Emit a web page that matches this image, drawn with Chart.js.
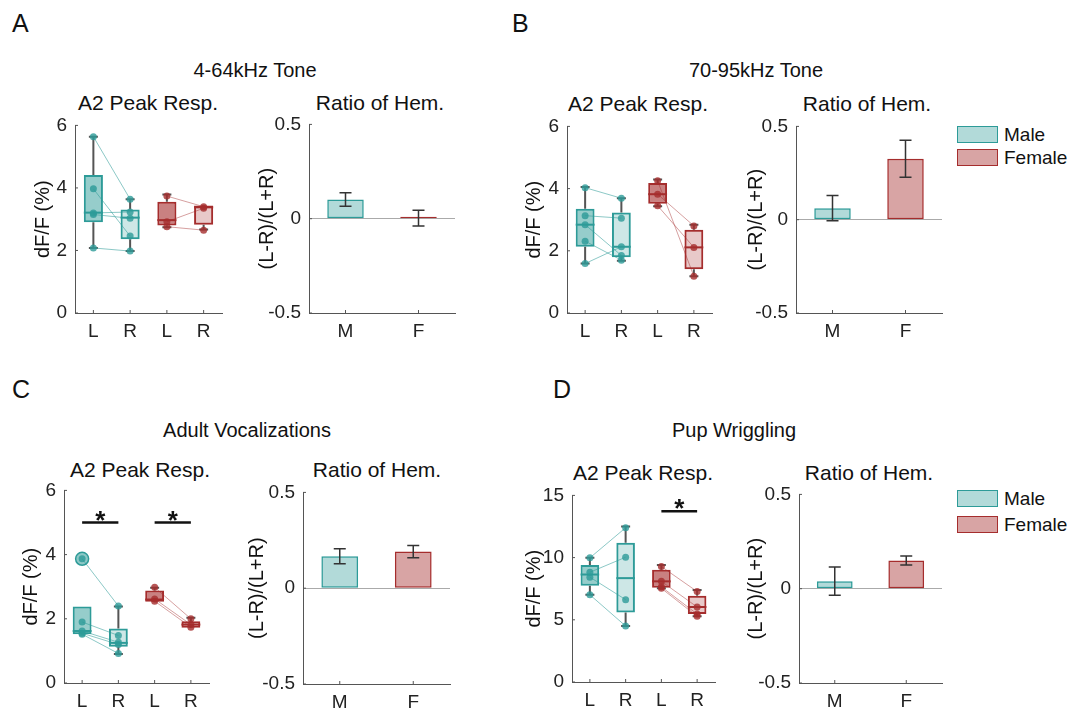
<!DOCTYPE html>
<html>
<head>
<meta charset="utf-8">
<script src="https://cdn.jsdelivr.net/npm/chart.js@4.4.1/dist/chart.umd.min.js"></script>
<style>
  body { margin: 0; background: #fff; }
  #fig { position: relative; width: 1067px; height: 714px; overflow: hidden;
         font-family: 'Liberation Sans', Helvetica, Arial, sans-serif; color: #111; }
  .plot { position: absolute; }
  .txt { position: absolute; white-space: nowrap; line-height: 1; }
  .mid { transform: translateX(-50%); }
  .lg { position: absolute; display: flex; align-items: center; font-size: 19px; line-height: 1; }
  .sw { width: 39px; height: 15px; margin-right: 6px; }
</style>
</head>
<body>
<div id="fig">
  <!-- подписи панелей -->
  <div class="txt" style="left:12px;top:11px;font-size:25px">A</div>
  <div class="txt" style="left:512px;top:11px;font-size:25px">B</div>
  <div class="txt" style="left:12px;top:377px;font-size:25px">C</div>
  <div class="txt" style="left:553px;top:377px;font-size:25px">D</div>

  <div class="txt mid" style="left:255px;top:60px;font-size:20px">4-64kHz Tone</div>
  <div class="txt mid" style="left:756px;top:60px;font-size:20px">70-95kHz Tone</div>
  <div class="txt mid" style="left:247px;top:420px;font-size:20px">Adult Vocalizations</div>
  <div class="txt mid" style="left:734px;top:420px;font-size:20px">Pup Wriggling</div>

  <div class="txt mid" style="left:148px;top:92px;font-size:21px">A2 Peak Resp.</div>
  <div class="txt mid" style="left:380px;top:92px;font-size:21px">Ratio of Hem.</div>
  <div class="txt mid" style="left:638px;top:93px;font-size:21px">A2 Peak Resp.</div>
  <div class="txt mid" style="left:867px;top:93px;font-size:21px">Ratio of Hem.</div>
  <div class="txt mid" style="left:140px;top:459px;font-size:21px">A2 Peak Resp.</div>
  <div class="txt mid" style="left:377px;top:459px;font-size:21px">Ratio of Hem.</div>
  <div class="txt mid" style="left:643px;top:462px;font-size:21px">A2 Peak Resp.</div>
  <div class="txt mid" style="left:869px;top:462px;font-size:21px">Ratio of Hem.</div>

  <!-- легенды -->
  <div class="lg" style="left:957px;top:125px"><div class="sw" style="background:rgba(45,155,152,0.37);border:1.5px solid rgb(45,155,152)"></div>Male</div>
  <div class="lg" style="left:957px;top:148px"><div class="sw" style="background:rgba(165,45,45,0.43);border:1.5px solid rgb(165,45,45)"></div>Female</div>
  <div class="lg" style="left:957px;top:489px"><div class="sw" style="background:rgba(45,155,152,0.37);border:1.5px solid rgb(45,155,152)"></div>Male</div>
  <div class="lg" style="left:957px;top:515px"><div class="sw" style="background:rgba(165,45,45,0.43);border:1.5px solid rgb(165,45,45)"></div>Female</div>
</div>

<script>
// Категории
const boxCats = ['L', 'R', 'L', 'R'];
const ratioCats = ['M', 'F'];

// A: 4-64kHz Tone
const aQ1 = [2.90, 2.36, 2.80, 2.82];
const aQ3 = [4.41, 3.31, 3.56, 3.44];
const aMed = [3.21, 3.05, 2.97, 3.38];
const aLo = [2.08, 1.98, 2.74, 2.67];
const aHi = [5.64, 3.64, 3.79, 3.44];
const aMale = [[5.64, 3.64], [3.97, 2.46], [3.20, 3.23], [3.15, 3.03], [2.08, 1.98]];
const aFemale = [[3.74, 3.40], [2.92, 3.35], [2.76, 2.65]];
const aRatio = [0.102, 0.003];
const aErr = [0.036, 0.042];

// B: 70-95kHz Tone
const bQ1 = [2.13, 1.79, 3.51, 1.41];
const bQ3 = [3.35, 3.23, 4.18, 2.68];
const bMed = [2.84, 2.13, 3.82, 2.11];
const bLo = [1.59, 1.68, 3.43, 1.18];
const bHi = [4.05, 3.69, 4.29, 2.84];
const bMale = [[4.03, 3.69], [3.13, 3.05], [2.84, 1.85], [2.31, 1.70], [1.59, 2.13]];
const bFemale = [[4.25, 1.18], [3.82, 2.80], [3.45, 2.11]];
const bRatio = [0.062, 0.327];
const bErr = [0.068, 0.099];

// C: Adult Vocalizations
const cQ1 = [1.52, 1.13, 2.53, 1.72];
const cQ3 = [2.38, 1.70, 2.88, 1.92];
const cMed = [1.62, 1.25, 2.60, 1.82];
const cLo = [1.52, 0.90, 2.53, 1.72];
const cHi = [2.38, 2.38, 2.97, 2.03];
const cMale = [[3.87, 2.40], [1.90, 1.48], [1.62, 1.27], [1.55, 1.20], [1.52, 0.92]];
const cFemale = [[2.98, 2.00], [2.62, 1.82], [2.55, 1.74]];
const cOutlier = [3.87, null, null, null];
const cSig = [[0, 1, 5.0], [2, 3, 5.0]];
const cRatio = [0.167, 0.191];
const cErr = [0.039, 0.032];

// D: Pup Wriggling
const dQ1 = [7.73, 5.59, 7.58, 5.46];
const dQ3 = [9.41, 11.2, 9.03, 6.93];
const dMed = [8.64, 8.35, 8.09, 6.03];
const dLo = [7.01, 4.50, 7.53, 5.28];
const dHi = [9.98, 12.49, 9.41, 7.40];
const dMale = [[9.98, 12.40], [8.82, 10.03], [8.43, 6.62], [7.01, 4.50]];
const dFemale = [[9.28, 7.27], [8.09, 6.03], [7.65, 5.46], [7.53, 5.28]];
const dSig = [[2, 3, 13.73]];
const dRatio = [0.04, 0.150];
const dErr = [0.075, 0.024];

// Цвета
const teal = 'rgb(45,155,152)';
const red = 'rgb(165,45,45)';
const boxFill = ['rgba(45,155,152,0.5)', 'rgba(45,155,152,0.24)', 'rgba(165,45,45,0.6)', 'rgba(165,45,45,0.26)'];
const boxLine = [teal, teal, red, red];
const FONT = "'Liberation Sans', Helvetica, Arial, sans-serif";

Chart.defaults.font.family = FONT;
Chart.defaults.color = '#222';
Chart.defaults.animation = false;

/* ===============================
   Плагины: усы, медианы, звёздочки, планки ошибок
=============================== */
const boxExtras = {
  id: 'boxExtras',
  afterDatasetDraw(chart, args, opts) {
    if (args.index !== 0 || !opts.med) return;
    const ctx = chart.ctx;
    const y = chart.scales.y;
    ctx.save();
    args.meta.data.forEach((bar, i) => {
      const x = bar.x, hw = bar.width / 2;
      const q1 = y.getPixelForValue(opts.q1[i]);
      const q3 = y.getPixelForValue(opts.q3[i]);
      const lo = y.getPixelForValue(opts.lo[i]);
      const hi = y.getPixelForValue(opts.hi[i]);
      ctx.strokeStyle = '#555';
      ctx.lineWidth = 2;
      ctx.beginPath();
      if (opts.hi[i] > opts.q3[i]) {
        ctx.moveTo(x, q3); ctx.lineTo(x, hi);
        ctx.moveTo(x - 4.5, hi); ctx.lineTo(x + 4.5, hi);
      }
      if (opts.lo[i] < opts.q1[i]) {
        ctx.moveTo(x, q1); ctx.lineTo(x, lo);
        ctx.moveTo(x - 4.5, lo); ctx.lineTo(x + 4.5, lo);
      }
      ctx.stroke();
      ctx.strokeStyle = boxLine[i];
      ctx.beginPath();
      const m = y.getPixelForValue(opts.med[i]);
      ctx.moveTo(x - hw, m); ctx.lineTo(x + hw, m);
      ctx.stroke();
    });
    ctx.restore();
  },
  afterDraw(chart, args, opts) {
    const { ctx, chartArea, scales: { x, y } } = chart;
    ctx.save();
    // тики внутрь, как в matlab
    ctx.strokeStyle = '#555';
    ctx.lineWidth = 1;
    ctx.beginPath();
    y.ticks.forEach(t => {
      const py = y.getPixelForValue(t.value);
      ctx.moveTo(chartArea.left, py); ctx.lineTo(chartArea.left + 3, py);
    });
    x.ticks.forEach((t, i) => {
      const px = x.getPixelForValue(i);
      ctx.moveTo(px, chartArea.bottom); ctx.lineTo(px, chartArea.bottom - 3);
    });
    ctx.stroke();
    // значимость
    (opts.sig || []).forEach(([a, b, v]) => {
      const py = y.getPixelForValue(v);
      ctx.strokeStyle = '#111';
      ctx.lineWidth = 2.5;
      ctx.beginPath();
      ctx.moveTo(x.getPixelForValue(a), py);
      ctx.lineTo(x.getPixelForValue(b), py);
      ctx.stroke();
      ctx.fillStyle = '#111';
      ctx.font = 'bold 26px ' + FONT;
      ctx.textAlign = 'center';
      ctx.textBaseline = 'alphabetic';
      ctx.fillText('*', (x.getPixelForValue(a) + x.getPixelForValue(b)) / 2, py + 6);
    });
    ctx.restore();
  }
};

const errBars = {
  id: 'errBars',
  afterDatasetsDraw(chart, args, opts) {
    if (!opts.err) return;
    const ctx = chart.ctx;
    const y = chart.scales.y;
    const meta = chart.getDatasetMeta(0);
    const vals = chart.data.datasets[0].data;
    ctx.save();
    ctx.strokeStyle = '#333';
    ctx.lineWidth = 1.5;
    ctx.beginPath();
    meta.data.forEach((bar, i) => {
      const top = y.getPixelForValue(vals[i] + opts.err[i]);
      const bot = y.getPixelForValue(vals[i] - opts.err[i]);
      ctx.moveTo(bar.x, top); ctx.lineTo(bar.x, bot);
      ctx.moveTo(bar.x - 6, top); ctx.lineTo(bar.x + 6, top);
      ctx.moveTo(bar.x - 6, bot); ctx.lineTo(bar.x + 6, bot);
    });
    ctx.stroke();
    ctx.restore();
  }
};

/* ===============================
   Построение
=============================== */
function place(geo) {
  const [L, T, R, B, W] = geo;
  const div = document.createElement('div');
  div.className = 'plot';
  div.style.left = (L - W) + 'px';
  div.style.top = (T - 12) + 'px';
  div.style.width = (R - L + W + 4) + 'px';
  div.style.height = (B - T + 12 + 32) + 'px';
  const cv = document.createElement('canvas');
  div.appendChild(cv);
  document.getElementById('fig').appendChild(div);
  return cv;
}

function axes(W, yMin, yMax, step, title, zeroLine) {
  return {
    x: {
      offset: true,
      grid: { display: false, drawTicks: false },
      border: { display: true, color: '#555', width: 1 },
      ticks: { font: { size: 19 }, padding: 7, color: '#222' },
      afterFit: s => { s.height = 32; }
    },
    y: {
      min: yMin, max: yMax,
      grid: {
        display: zeroLine, drawTicks: false,
        color: c => (c.tick && c.tick.value === 0 ? '#aaa' : 'rgba(0,0,0,0)')
      },
      border: { display: true, color: '#555', width: 1 },
      ticks: { stepSize: step, font: { size: 19 }, padding: 8, color: '#222' },
      title: { display: true, text: title, font: { size: 20 }, padding: { top: 0, bottom: 0 }, color: '#111' },
      afterFit: s => { s.width = W; }
    }
  };
}

function pairSets(pairs, col, pts, left) {
  return pairs.map(p => ({
    type: 'line',
    data: left ? [p[0], p[1], null, null] : [null, null, p[0], p[1]],
    borderColor: col,
    borderWidth: 1,
    pointRadius: 3.5,
    pointBackgroundColor: pts,
    pointBorderWidth: 0,
    spanGaps: false,
    order: 0
  }));
}

function boxChart(geo, q1, q3, med, lo, hi, male, female, yMax, step, sig, outlier) {
  const datasets = [{
    data: q1.map((v, i) => [v, q3[i]]),
    backgroundColor: boxFill,
    borderColor: boxLine,
    borderWidth: 2,
    borderSkipped: false,
    barPercentage: 0.52,
    categoryPercentage: 1,
    order: 5
  }];
  datasets.push(...pairSets(male, 'rgba(45,155,152,0.55)', 'rgba(45,155,152,0.8)', true));
  datasets.push(...pairSets(female, 'rgba(165,45,45,0.45)', 'rgba(165,45,45,0.8)', false));
  if (outlier) {
    datasets.push({
      type: 'line', data: outlier, showLine: false,
      pointRadius: 6.5, pointBackgroundColor: 'rgba(45,155,152,0.55)',
      pointBorderColor: teal, pointBorderWidth: 1.5, order: 0
    });
  }
  return new Chart(place(geo), {
    type: 'bar',
    data: { labels: boxCats, datasets },
    options: {
      responsive: true,
      maintainAspectRatio: false,
      layout: { padding: { top: 12, right: 4, left: 0, bottom: 0 } },
      plugins: {
        legend: { display: false },
        tooltip: { enabled: false },
        boxExtras: { q1, q3, med, lo, hi, sig }
      },
      scales: axes(geo[4], 0, yMax, step, 'dF/F (%)', false)
    },
    plugins: [boxExtras]
  });
}

function ratioChart(geo, vals, err) {
  return new Chart(place(geo), {
    type: 'bar',
    data: {
      labels: ratioCats,
      datasets: [{
        data: vals,
        backgroundColor: ['rgba(45,155,152,0.37)', 'rgba(165,45,45,0.43)'],
        borderColor: [teal, red],
        borderWidth: 1.5,
        borderSkipped: false,
        minBarLength: 2,
        barPercentage: 0.5,
        categoryPercentage: 1
      }]
    },
    options: {
      responsive: true,
      maintainAspectRatio: false,
      layout: { padding: { top: 12, right: 4, left: 0, bottom: 0 } },
      plugins: {
        legend: { display: false },
        tooltip: { enabled: false },
        errBars: { err },
        boxExtras: {}
      },
      scales: axes(geo[4], -0.5, 0.5, 0.5, '(L-R)/(L+R)', true)
    },
    plugins: [errBars, boxExtras]
  });
}

// [left, top, right, bottom, ширина оси Y]
boxChart([75, 118, 222, 313, 44], aQ1, aQ3, aMed, aLo, aHi, aMale, aFemale, 6, 2, null, null);
ratioChart([309, 117, 455, 313, 54], aRatio, aErr);
boxChart([567, 119, 712, 313, 45], bQ1, bQ3, bMed, bLo, bHi, bMale, bFemale, 6, 2, null, null);
ratioChart([796, 119, 942, 313, 52], bRatio, bErr);
boxChart([64, 483, 213, 683, 45], cQ1, cQ3, cMed, cLo, cHi, cMale, cFemale, 6, 2, cSig, cOutlier);
ratioChart([303, 485, 450, 684, 58], cRatio, cErr);
boxChart([572, 488, 715, 682, 50], dQ1, dQ3, dMed, dLo, dHi, dMale, dFemale, 15, 5, dSig, null);
ratioChart([799, 487, 942, 683, 55], dRatio, dErr);
</script>
</body>
</html>
